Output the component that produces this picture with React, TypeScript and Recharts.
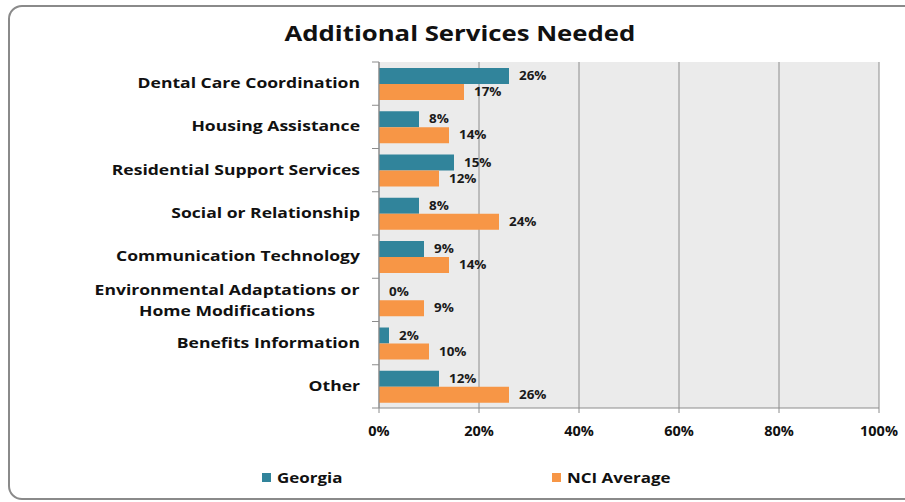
import React from 'react';
import { BarChart, Bar, XAxis, YAxis, CartesianGrid, LabelList } from 'recharts';

const categories = [
  'Dental Care Coordination',
  'Housing Assistance',
  'Residential Support Services',
  'Social or Relationship',
  'Communication Technology',
  'Environmental Adaptations or\nHome Modifications',
  'Benefits Information',
  'Other',
];
const georgia = [26, 8, 15, 8, 9, 0, 2, 12];
const nciAverage = [17, 14, 12, 24, 14, 9, 10, 26];
const xTicks = [0, 20, 40, 60, 80, 100];
const seriesNames = ['Georgia', 'NCI Average'];
const seriesColors = ['#31849b', '#f79646'];

const data = categories.map((c, i) => ({ name: c, georgia: georgia[i], nci: nciAverage[i] }));

const FONT = '"Open Sans", "DejaVu Sans", sans-serif';
const GRID = '#8c8c8c';
const SX = 1.17;

const YTick = (props: any) => {
  const { x, y, payload, index } = props;
  const off = payload && payload.offset ? payload.offset : 21.6;
  const lines = String(payload.value).split('\n');
  const last = index === categories.length - 1;
  return (
    <g>
      <line x1={x - 7} x2={x} y1={y - off} y2={y - off} stroke={GRID} />
      {last && <line x1={x - 7} x2={x} y1={y + off} y2={y + off} stroke={GRID} />}
      {lines.length === 1 ? (
        <text transform={`translate(${x - 19},${y - 1}) scale(${SX},1)`} dy="0.36em" textAnchor="end" fontFamily={FONT} fontWeight="bold" fontSize={15} fill="#111">
          {lines[0]}
        </text>
      ) : (
        lines.map((l, i) => (
          <text key={i} transform={`translate(${x - 152},${y + (i - (lines.length - 1) / 2) * 21}) scale(${SX},1)`} dy="0.36em" textAnchor="middle" fontFamily={FONT} fontWeight="bold" fontSize={15} fill="#111">
            {l}
          </text>
        ))
      )}
    </g>
  );
};

const fmt = (v: any) => `${v}%`;

const BarLabel = (props: any) => {
  const { x, y, width, height, value } = props;
  const tx = Number(x) + Math.max(0, Number(width || 0)) + 10;
  const ty = Number(y) + Number(height) / 2;
  return (
    <text transform={`translate(${tx},${ty}) scale(${SX},1)`} dy="0.36em" textAnchor="start" fontFamily={FONT} fontWeight="bold" fontSize={11.5} fill="#1a1a1a">
      {`${value}%`}
    </text>
  );
};

export default function App() {
  return (
    <div style={{ position: 'absolute', left: 0, top: 0, width: 905, height: 502, overflow: 'hidden', background: '#fff', fontFamily: FONT }}>
      <div style={{ position: 'absolute', left: 8, top: 5, width: 930, height: 495, border: '2px solid #8a8a8a', borderRadius: 14, boxSizing: 'border-box' }} />
      <div style={{ position: 'absolute', left: 0, top: 17, width: 920, textAlign: 'center', fontSize: 22, fontWeight: 'bold', color: '#111' }}>
        <span style={{ display: 'inline-block', transform: `scaleX(${SX})`, transformOrigin: 'center' }}>Additional Services Needed</span>
      </div>
      <div style={{ position: 'absolute', left: 0, top: 0 }}>
        <BarChart
          width={905}
          height={502}
          data={data}
          layout="vertical"
          margin={{ top: 62, right: 26, bottom: 64, left: 0 }}
          barGap={0}
        >
          <CartesianGrid horizontal={false} stroke={GRID} fill="#ebebeb" />
          <XAxis
            type="number"
            domain={[0, 100]}
            ticks={xTicks}
            tickFormatter={fmt}
            stroke={GRID}
            tickSize={5}
            tickMargin={13}
            height={30}
            interval={0}
            tick={{ fill: '#111', fontSize: 14.5, fontWeight: 'bold', fontFamily: FONT }}
          />
          <YAxis
            type="category"
            dataKey="name"
            width={379}
            stroke={GRID}
            tickLine={false}
            tickSize={0}
            tickMargin={0}
            interval={0}
            tick={<YTick />}
          />
          <Bar dataKey="georgia" name={seriesNames[0]} fill={seriesColors[0]} barSize={16} minPointSize={0.01} isAnimationActive={false}>
            <LabelList dataKey="georgia" content={<BarLabel />} />
          </Bar>
          <Bar dataKey="nci" name={seriesNames[1]} fill={seriesColors[1]} barSize={16} isAnimationActive={false}>
            <LabelList dataKey="nci" content={<BarLabel />} />
          </Bar>
        </BarChart>
      </div>
      {seriesNames.map((n, i) => (
        <div key={n} style={{ position: 'absolute', left: i === 0 ? 262 : 552, top: 467, display: 'flex', alignItems: 'center', fontSize: 15, fontWeight: 'bold', color: '#111' }}>
          <span style={{ display: 'inline-block', width: 9, height: 9, background: seriesColors[i], marginRight: 6 }} />
          <span style={{ display: 'inline-block', transform: 'scaleX(1.13)', transformOrigin: 'left center' }}>{n}</span>
        </div>
      ))}
    </div>
  );
}
